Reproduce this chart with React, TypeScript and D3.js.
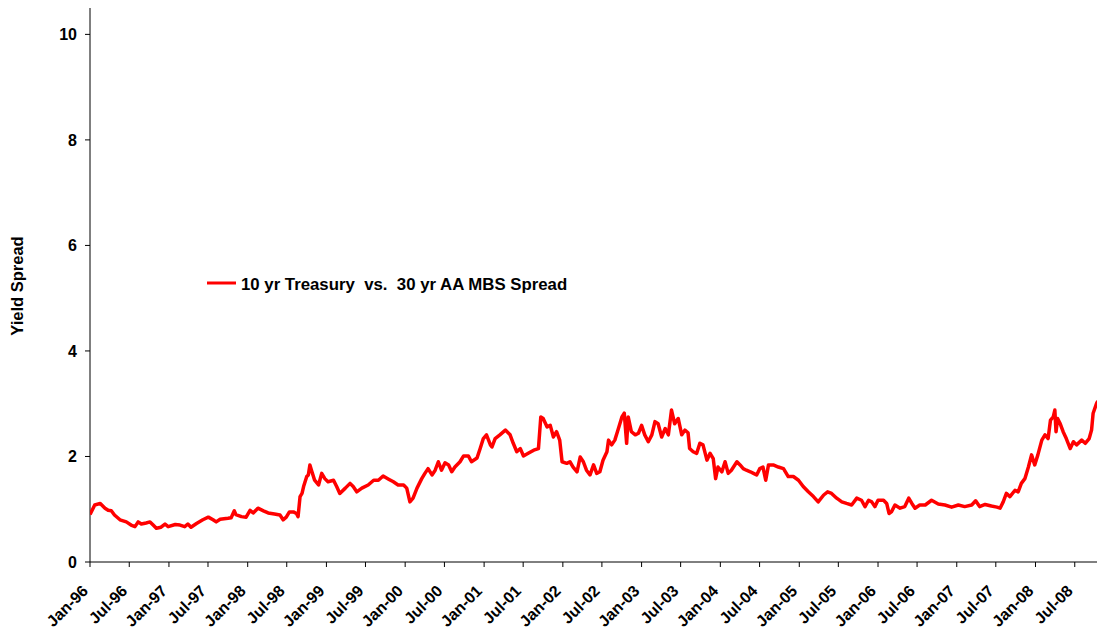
import React from "react";
import * as d3 from "d3";

// Decimal-year time stamps and spread values (percentage points)
const yearFrac: number[] = [
  1996.00, 1996.01, 1996.06, 1996.13, 1996.19, 1996.23, 1996.27, 1996.31, 1996.38, 1996.46,
  1996.52, 1996.57, 1996.61, 1996.65, 1996.71, 1996.76, 1996.80, 1996.84, 1996.90, 1996.95,
  1996.99, 1997.08, 1997.14, 1997.20, 1997.24, 1997.28, 1997.35, 1997.43, 1997.50, 1997.56,
  1997.60, 1997.65, 1997.75, 1997.79, 1997.83, 1997.85, 1997.92, 1997.98, 1998.03, 1998.07,
  1998.13, 1998.20, 1998.26, 1998.34, 1998.41, 1998.45, 1998.49, 1998.53,
  1998.58, 1998.62, 1998.64, 1998.665, 1998.69, 1998.71, 1998.75, 1998.77, 1998.79, 1998.81,
  1998.85, 1998.90, 1998.94, 1998.98, 1999.02, 1999.09, 1999.13, 1999.17, 1999.24, 1999.30,
  1999.34, 1999.385, 1999.45, 1999.53, 1999.60, 1999.66, 1999.72, 1999.79, 1999.85, 1999.91,
  1999.98, 2000.02, 2000.06, 2000.10, 2000.15, 2000.21, 2000.25, 2000.29, 2000.34, 2000.38,
  2000.42, 2000.46, 2000.505, 2000.55, 2000.59, 2000.63, 2000.695, 2000.74, 2000.80, 2000.84,
  2000.91, 2000.95, 2000.99, 2001.03, 2001.08,
  2001.10, 2001.14, 2001.20, 2001.27, 2001.33, 2001.37, 2001.415, 2001.46, 2001.50, 2001.56,
  2001.63, 2001.69, 2001.72, 2001.75, 2001.80, 2001.84, 2001.88, 2001.92, 2001.96, 2001.99,
  2002.05, 2002.09, 2002.13, 2002.18, 2002.22, 2002.26, 2002.30, 2002.345, 2002.39, 2002.43,
  2002.47, 2002.51, 2002.56, 2002.58, 2002.62, 2002.66, 2002.70, 2002.75, 2002.78, 2002.81,
  2002.83, 2002.87, 2002.92, 2002.96, 2003.00, 2003.04, 2003.085, 2003.13, 2003.17, 2003.21,
  2003.255, 2003.30, 2003.34, 2003.38, 2003.42, 2003.465, 2003.51, 2003.55, 2003.59,
  2003.61, 2003.655, 2003.70, 2003.74, 2003.78, 2003.83, 2003.87, 2003.91, 2003.94, 2003.97,
  2004.02, 2004.06, 2004.10, 2004.14, 2004.21, 2004.25, 2004.29, 2004.33, 2004.38, 2004.42,
  2004.46, 2004.50, 2004.54, 2004.575, 2004.61, 2004.67, 2004.735, 2004.80, 2004.86, 2004.925,
  2004.99, 2005.05, 2005.115, 2005.18, 2005.24, 2005.31, 2005.36, 2005.41, 2005.475, 2005.54,
  2005.60, 2005.665, 2005.73, 2005.79, 2005.835, 2005.88, 2005.92, 2005.96, 2006.00, 2006.07,
  2006.11, 2006.14,
  2006.17, 2006.215, 2006.28, 2006.34, 2006.39, 2006.43, 2006.47, 2006.53, 2006.60, 2006.68,
  2006.765, 2006.85, 2006.935, 2007.02, 2007.10, 2007.19, 2007.24, 2007.29, 2007.36, 2007.44,
  2007.51, 2007.55, 2007.59, 2007.63, 2007.675, 2007.74, 2007.78, 2007.82, 2007.865, 2007.91,
  2007.95, 2007.99, 2008.03, 2008.08, 2008.12, 2008.16, 2008.19, 2008.225, 2008.245, 2008.26,
  2008.28, 2008.31, 2008.35, 2008.39, 2008.44, 2008.48, 2008.52, 2008.585, 2008.63, 2008.68,
  2008.71, 2008.73, 2008.775, 2008.79,
];

const spread: number[] = [
  0.90, 0.93, 1.08, 1.11, 1.02, 0.98, 0.97, 0.89, 0.80, 0.76,
  0.70, 0.67, 0.76, 0.72, 0.74, 0.76, 0.70, 0.64, 0.66, 0.72,
  0.67, 0.71, 0.70, 0.67, 0.72, 0.66, 0.73, 0.80, 0.85, 0.80,
  0.76, 0.81, 0.83, 0.84, 0.97, 0.90, 0.86, 0.85, 0.98, 0.93,
  1.02, 0.97, 0.93, 0.91, 0.89, 0.80, 0.85, 0.95,
  0.95, 0.92, 0.86, 1.24, 1.30, 1.43, 1.62, 1.65, 1.84, 1.74,
  1.55, 1.46, 1.68, 1.58, 1.52, 1.55, 1.43, 1.30, 1.40, 1.49,
  1.43, 1.33, 1.40, 1.46, 1.55, 1.55, 1.63, 1.57, 1.52, 1.46,
  1.46, 1.40, 1.14, 1.21, 1.40, 1.58, 1.68, 1.77, 1.65, 1.74,
  1.90, 1.74, 1.88, 1.84, 1.71, 1.80, 1.90, 2.01, 2.01, 1.90,
  1.97, 2.15, 2.34, 2.41, 2.22,
  2.18, 2.34, 2.41, 2.50, 2.41, 2.25, 2.09, 2.15, 2.01, 2.06,
  2.12, 2.15, 2.75, 2.72, 2.56, 2.59, 2.37, 2.47, 2.31, 1.90,
  1.87, 1.90, 1.80, 1.71, 1.99, 1.90, 1.74, 1.65, 1.84, 1.68,
  1.71, 1.93, 2.09, 2.31, 2.22, 2.31, 2.50, 2.75, 2.82, 2.25,
  2.75, 2.47, 2.41, 2.44, 2.59, 2.41, 2.28, 2.41, 2.66, 2.62,
  2.37, 2.53, 2.41, 2.88, 2.62, 2.72, 2.41, 2.50, 2.45,
  2.15, 2.09, 2.06, 2.25, 2.22, 1.93, 2.06, 1.96, 1.58, 1.80,
  1.71, 1.90, 1.68, 1.74, 1.90, 1.84, 1.77, 1.74, 1.71, 1.68,
  1.65, 1.77, 1.80, 1.55, 1.84, 1.84, 1.80, 1.77, 1.62, 1.62,
  1.55, 1.43, 1.33, 1.24, 1.14, 1.27, 1.33, 1.30, 1.21, 1.14,
  1.11, 1.08, 1.21, 1.17, 1.05, 1.17, 1.14, 1.05, 1.17, 1.17,
  1.11, 0.92,
  0.95, 1.08, 1.02, 1.05, 1.21, 1.11, 1.02, 1.08, 1.08, 1.17,
  1.10, 1.08, 1.04, 1.08, 1.05, 1.08, 1.16, 1.05, 1.09, 1.06,
  1.04, 1.02, 1.14, 1.30, 1.24, 1.36, 1.33, 1.49, 1.58, 1.80,
  2.03, 1.84, 2.03, 2.31, 2.41, 2.34, 2.69, 2.75, 2.88, 2.47,
  2.72, 2.63, 2.47, 2.34, 2.15, 2.28, 2.22, 2.31, 2.25, 2.34,
  2.50, 2.82, 3.01, 3.05,
];

const yTicks: number[] = [0, 2, 4, 6, 8, 10];
const domainStartYear = 1996.0;
const domainEndYear = 2008.779;
const legendLabel = "10 yr Treasury  vs.  30 yr AA MBS Spread";
const yTitle = "Yield Spread";

function toDate(t: number): Date {
  const y = Math.floor(t);
  const start = new Date(y, 0, 1).getTime();
  const end = new Date(y + 1, 0, 1).getTime();
  return new Date(start + (t - y) * (end - start));
}

const W = 1097;
const H = 631;
const M = { left: 90, right: 1097, top: 8, bottom: 562 };
const FONT = "'Liberation Sans', Arial, Helvetica, sans-serif";

export default function App() {
  const x = d3
    .scaleTime()
    .domain([toDate(domainStartYear), toDate(domainEndYear)])
    .range([M.left, M.right]);
  const y = d3.scaleLinear().domain([0, 10.5]).range([M.bottom, M.top]);

  const data = yearFrac.map((t, i) => ({ d: toDate(t), v: spread[i] }));
  const line = d3
    .line<{ d: Date; v: number }>()
    .x((p) => x(p.d))
    .y((p) => y(p.v));

  const xTicks = d3.timeMonth
    .every(6)!
    .range(toDate(domainStartYear), new Date(toDate(domainEndYear).getTime() + 1));
  const fmt = d3.timeFormat("%b-%y");

  return (
    <svg
      width={W}
      height={H}
      style={{ position: "absolute", left: 0, top: 0, background: "#fff" }}
      fontFamily={FONT}
    >
      <rect x={0} y={0} width={W} height={H} fill="#fff" />
      <defs>
        <clipPath id="plot">
          <rect x={M.left} y={M.top} width={M.right - M.left} height={M.bottom - M.top + 5} />
        </clipPath>
      </defs>

      {/* y axis */}
      <line x1={M.left} x2={M.left} y1={M.top} y2={M.bottom} stroke="#000" strokeWidth={1} />
      {yTicks.map((t) => (
        <g key={"y" + t}>
          <line x1={M.left - 5} x2={M.left} y1={y(t)} y2={y(t)} stroke="#000" />
          <text
            x={77}
            y={y(t)}
            dy="0.36em"
            textAnchor="end"
            fontSize={16}
            fontWeight="bold"
            fill="#000"
          >
            {t}
          </text>
        </g>
      ))}

      {/* x axis */}
      <line x1={M.left} x2={M.right} y1={M.bottom} y2={M.bottom} stroke="#000" strokeWidth={1} />
      {xTicks.map((d, i) => (
        <g key={"x" + i}>
          <line x1={x(d)} x2={x(d)} y1={M.bottom} y2={M.bottom + 5} stroke="#000" />
          <text
            transform={`translate(${x(d) - 1},${592}) rotate(-45)`}
            textAnchor="end"
            fontSize={16}
            fontWeight="bold"
            fill="#000"
          >
            {fmt(d)}
          </text>
        </g>
      ))}

      {/* y title */}
      <text
        transform={`translate(23,286) rotate(-90)`}
        textAnchor="middle"
        fontSize={16.5}
        fontWeight="bold"
        fill="#000"
      >
        {yTitle}
      </text>

      {/* series */}
      <path
        d={line(data) || ""}
        fill="none"
        stroke="#ff0000"
        strokeWidth={3.5}
        strokeLinejoin="round"
        clipPath="url(#plot)"
      />

      {/* legend */}
      <line x1={207} x2={236} y1={283} y2={283} stroke="#ff0000" strokeWidth={3} />
      <text
        x={241}
        y={290}
        fontSize={16.8}
        fontWeight="bold"
        fill="#000"
        style={{ whiteSpace: "pre" }}
        xmlSpace="preserve"
      >
        {legendLabel}
      </text>
    </svg>
  );
}
